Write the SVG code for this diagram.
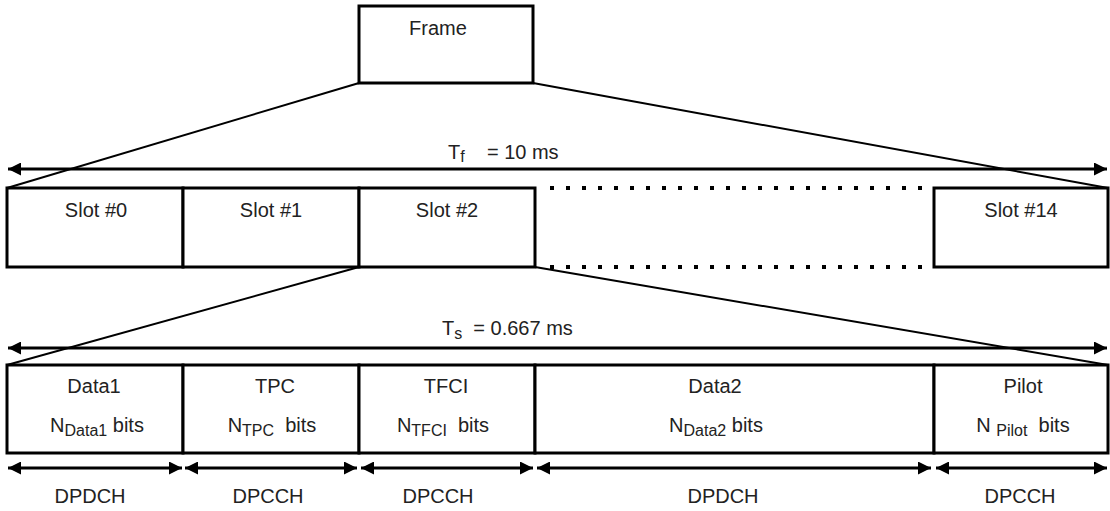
<svg xmlns="http://www.w3.org/2000/svg" width="1110" height="511" viewBox="0 0 1110 511">
<defs>
<marker id="ah" viewBox="0 0 10 10" refX="10" refY="5" markerWidth="14" markerHeight="13" markerUnits="userSpaceOnUse" orient="auto-start-reverse">
<path d="M0,0 L10,5 L0,10 z" fill="#000"/>
</marker>
<style>
text{font-family:"Liberation Sans",Arial,sans-serif;font-size:20px;fill:#222}
.sub{font-size:16px}
.box{fill:#fff;stroke:#000;stroke-width:3}
.diag{stroke:#000;stroke-width:2;fill:none}
.dim{stroke:#000;stroke-width:3;fill:none;marker-start:url(#ah);marker-end:url(#ah)}
.dots{stroke:#000;stroke-width:4;stroke-dasharray:4 12;fill:none}
.lbl{text-anchor:middle}
</style>
</defs>

<g id="connectors">
<line class="diag" x1="359" y1="83" x2="7" y2="188"/>
<line class="diag" x1="533" y1="83" x2="1108" y2="188"/>
<line class="diag" x1="359" y1="267" x2="7" y2="365"/>
<line class="diag" x1="535" y1="267" x2="1108" y2="365"/>
<line class="dots" x1="550" y1="188" x2="924" y2="188"/>
<line class="dots" x1="550" y1="267" x2="924" y2="267"/>
</g>

<g id="frame">
<rect class="box" x="359" y="6" width="174" height="77"/>
<text x="438" y="35" class="lbl">Frame</text>
</g>

<g id="tf">
<line class="dim" x1="8" y1="169" x2="1107" y2="169"/>
<text x="448" y="159" xml:space="preserve">T<tspan class="sub" dy="3">f</tspan><tspan dy="-3">    = 10 ms</tspan></text>
</g>

<g id="slot0"><rect class="box" x="7" y="188" width="176" height="79"/><text x="96" y="217" class="lbl">Slot #0</text></g>
<g id="slot1"><rect class="box" x="183" y="188" width="176" height="79"/><text x="271" y="217" class="lbl">Slot #1</text></g>
<g id="slot2"><rect class="box" x="359" y="188" width="176" height="79"/><text x="447" y="217" class="lbl">Slot #2</text></g>
<g id="slot14"><rect class="box" x="934" y="188" width="174" height="79"/><text x="1021" y="217" class="lbl">Slot #14</text></g>

<g id="ts">
<line class="dim" x1="8" y1="348" x2="1107" y2="348"/>
<text x="442" y="335" xml:space="preserve">T<tspan class="sub" dy="4">s</tspan><tspan dy="-4">  = 0.667 ms</tspan></text>
</g>

<g id="data1">
<rect class="box" x="7" y="365" width="176" height="88"/>
<text x="94" y="393" class="lbl">Data1</text>
<text x="97" y="432" class="lbl">N<tspan class="sub" dy="4">Data1</tspan><tspan dy="-4"> bits</tspan></text>
</g>
<g id="tpc">
<rect class="box" x="183" y="365" width="176" height="88"/>
<text x="275" y="393" class="lbl">TPC</text>
<text x="272" y="432" class="lbl" xml:space="preserve">N<tspan class="sub" dy="4">TPC</tspan><tspan dy="-4">  bits</tspan></text>
</g>
<g id="tfci">
<rect class="box" x="359" y="365" width="176" height="88"/>
<text x="446" y="393" class="lbl">TFCI</text>
<text x="443" y="432" class="lbl" xml:space="preserve">N<tspan class="sub" dy="4">TFCI</tspan><tspan dy="-4">  bits</tspan></text>
</g>
<g id="data2">
<rect class="box" x="535" y="365" width="399" height="88"/>
<text x="715" y="393" class="lbl">Data2</text>
<text x="716" y="432" class="lbl">N<tspan class="sub" dy="4">Data2</tspan><tspan dy="-4"> bits</tspan></text>
</g>
<g id="pilot">
<rect class="box" x="934" y="365" width="174" height="88"/>
<text x="1023" y="393" class="lbl">Pilot</text>
<text x="1023" y="432" class="lbl" xml:space="preserve">N <tspan class="sub" dy="4">Pilot</tspan><tspan dy="-4">  bits</tspan></text>
</g>

<g id="channels">
<line class="dim" x1="8" y1="468" x2="182" y2="468"/>
<line class="dim" x1="185" y1="468" x2="357" y2="468"/>
<line class="dim" x1="361" y1="468" x2="533" y2="468"/>
<line class="dim" x1="537" y1="468" x2="931" y2="468"/>
<line class="dim" x1="936" y1="468" x2="1107" y2="468"/>
<text x="90" y="503" class="lbl">DPDCH</text>
<text x="268" y="503" class="lbl">DPCCH</text>
<text x="438" y="503" class="lbl">DPCCH</text>
<text x="723" y="503" class="lbl">DPDCH</text>
<text x="1020" y="503" class="lbl">DPCCH</text>
</g>
</svg>
